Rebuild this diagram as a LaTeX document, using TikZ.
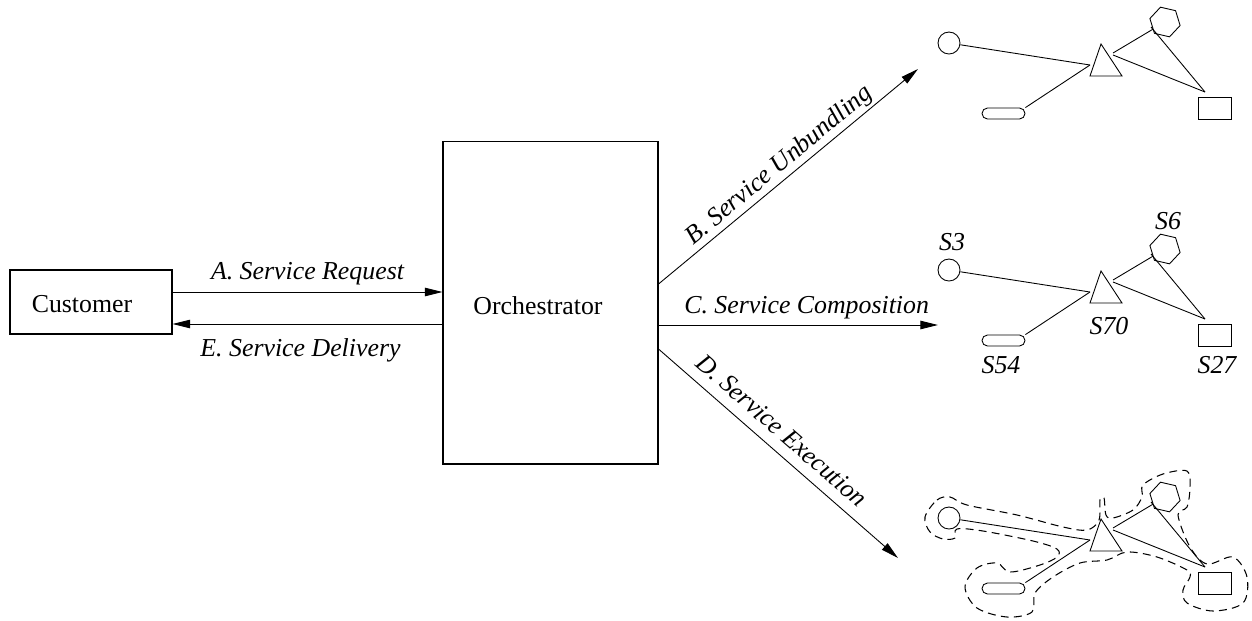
\documentclass[tikz,border=0pt]{standalone}
\usepackage{fontspec}
\setmainfont{Liberation Serif}
\usetikzlibrary{arrows.meta,shapes.geometric,calc}
\tikzset{
  txt/.style={font=\rmfamily\fontsize{14.7}{17}\selectfont, inner sep=0pt},
  itl/.style={font=\rmfamily\fontsize{14.7}{17}\selectfont\itshape, inner sep=0pt},
  box/.style={draw, line width=0.6pt, rectangle, inner sep=0pt},
  arr/.style={line width=0.5pt, -{Triangle[length=10pt,width=4.8pt]}},
  edge/.style={line width=0.5pt},
  shp/.style={draw, line width=0.5pt, inner sep=0pt},
  blob/.style={line width=0.6pt, dash pattern=on 4.5pt off 3pt}
}
\begin{document}
\begin{tikzpicture}[x=0.02cm,y=-0.02cm]
\useasboundingbox (0,0) rectangle (1252,620);
% main boxes
\node[box, minimum width=3.24cm, minimum height=1.28cm] (cust) at (91,302) {};
\node[txt] at (82,304) {Customer};
\node[box, minimum width=4.3cm, minimum height=6.46cm] (orch) at (550.5,302.5) {};
\node[txt] at (538,306) {Orchestrator};
% arrows A and E
\draw[arr] (cust.east |- 0,292) -- node[itl, above=3.5pt] {A. Service Request} (orch.west |- 0,292);
\draw[arr] (orch.west |- 0,324) -- node[itl, below=8pt, xshift=-4pt] {E. Service Delivery} (cust.east |- 0,324);
% arrows B, C, D
\coordinate (bend) at (918,69);
\coordinate (cend) at (938,325);
\coordinate (dend) at (898,558);
\draw[arr] (orch.east |- 0,284) -- node[itl, sloped, above=1pt, pos=0.50] {B. Service Unbundling} (bend);
\draw[arr] (orch.east |- 0,325) -- node[itl, above=3pt, pos=0.53] {C. Service Composition} (cend);
\draw[arr] (orch.east |- 0,349) -- node[itl, sloped, above=6pt, pos=0.46] {D. Service Execution} (dend);
% the three service graphs
\foreach \dy/\k in {0/1,227/2,475/3}{
  \begin{scope}[shift={(0,\dy)}]
    \node[shp, circle, minimum size=0.44cm] (ci\k) at (949,43) {};
    \node[shp, rectangle, rounded corners=0.11cm, minimum width=0.86cm, minimum height=0.22cm] (rr\k) at (1003.5,113.5) {};
    \node[shp, rectangle, minimum width=0.66cm, minimum height=0.44cm] (rc\k) at (1214.5,108) {};
    \node[shp, regular polygon, regular polygon sides=6, minimum size=0.62cm, shape border rotate=-13] (hx\k) at (1165,22) {};
    \coordinate (ta\k) at (1101,44);
    \coordinate (tb\k) at (1090,76);
    \coordinate (tc\k) at (1122,76);
    \draw[line width=0.5pt] (ta\k) -- (tb\k) -- (tc\k) -- cycle;
    \coordinate (tl\k) at (1090,65);
    \coordinate (tr\k) at (1113,53);
    \coordinate (ts\k) at (1113,55);
    \coordinate (rt\k) at (1205,92);
    \coordinate (hv\k) at (1151,27);
    \draw[edge] (ci\k) -- (tl\k);
    \draw[edge] (rr\k.north east) -- (tl\k);
    \draw[edge] (hx\k) -- (tr\k);
    \draw[edge] (ts\k) -- (rt\k);
    \draw[edge] (hv\k) -- (rt\k);
  \end{scope}
}
% labels of the middle graph
\node[itl] at (952,242) {S3};
\node[itl] at (1168,221) {S6};
\node[itl] at (1109,326) {S70};
\node[itl] at (1001,365) {S54};
\node[itl] at (1217,365) {S27};
% dashed outline of the bottom graph
\draw[blob] plot[smooth cycle, tension=0.55] coordinates {
 (925,517) (937,500) (950,497) (967,505) (1017,515) (1063,527) (1087,530)
 (1099,520) (1100,500) (1104,498) (1106,515) (1113,518)
 (1133,510) (1142,497) (1143,485) (1163,474) (1187,471) (1190,487) (1187,507) (1178,515)
 (1190,547) (1207,564) (1233,557) (1247,577) (1243,603) (1213,611) (1187,603) (1183,590)
 (1190,577) (1187,570) (1157,557) (1127,552) (1107,560) (1080,563) (1053,577) (1035,593)
 (1032,612) (1007,617) (977,608) (965,587) (977,568) (997,563) (1010,572) (1040,565)
 (1057,557) (1057,549) (1033,541) (983,531) (957,529) (955,538) (943,539) (930,532)
};
\end{tikzpicture}
\end{document}
